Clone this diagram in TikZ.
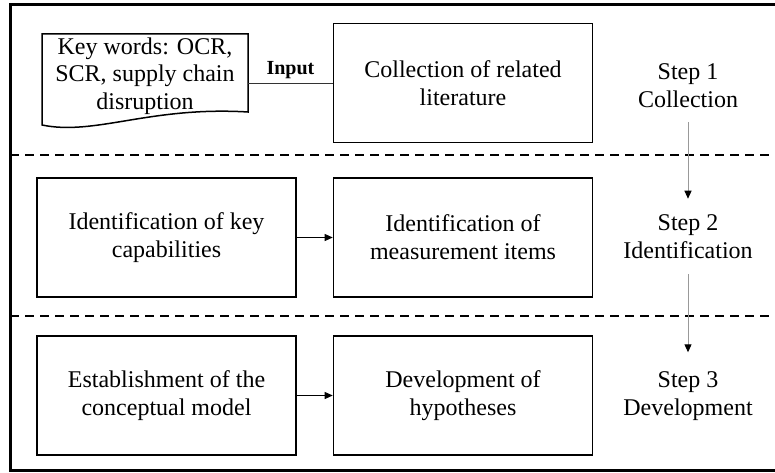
\documentclass[tikz,border=0pt]{standalone}
\usepackage{fontspec}
\setmainfont{Liberation Serif}
\usetikzlibrary{arrows.meta}
\begin{document}
\begin{tikzpicture}[x=1pt,y=-1pt,
  box/.style={draw, line width=1.6pt, minimum width=259pt, minimum height=119pt,
    align=center, font=\fontsize{24}{28}\selectfont, inner sep=0pt},
  steplabel/.style={align=center, font=\fontsize{24}{28}\selectfont, inner sep=0pt},
  phase/.style={line width=2pt, dash pattern=on 9pt off 6pt},
  flow/.style={line width=0.8pt, -{Triangle[length=8pt,width=7pt]}},
  stepflow/.style={draw=gray!80, line width=1pt, -{Triangle[length=8pt,width=7pt,black]}}]
\useasboundingbox (0,0) rectangle (775,473);

% outer frame and phase separators
\draw[line width=3pt] (10,5) rectangle (790,470);
\draw[phase] (10,155) -- (790,155);
\draw[phase] (10,316) -- (790,316);

% keyword document
\draw[line width=1.5pt] (42,125) -- (42,34) -- (248,34) -- (248,112)
  .. controls (150,106) and (95,136) .. cycle;
\node[align=center, font=\fontsize{24}{27.5}\selectfont, inner sep=0pt,
  minimum width=206pt] (doc) at (145,76) {Key words: OCR,\\SCR, supply chain\\disruption};

% step 1
\node[box] (col) at (463,83) {Collection of related\\literature};
\draw[line width=0.8pt, draw=black!80] (col.west -| doc.east) -- (col.west)
  node[midway, above=1pt, font=\fontsize{20}{24}\selectfont\bfseries] {Input};

% step 2
\node[box] (cap) at (166.5,237.5) {Identification of key\\capabilities};
\node[box] (items) at (463,237.5) {Identification of\\measurement items};
\draw[flow] (cap) -- (items);

% step 3
\node[box] (model) at (166.5,395.5) {Establishment of the\\conceptual model};
\node[box] (hyp) at (463,395.5) {Development of\\hypotheses};
\draw[flow] (model) -- (hyp);

% step labels
\node[steplabel] (s1) at (688,86) {Step 1\\Collection};
\node[steplabel] (s2) at (688,237) {Step 2\\Identification};
\node[steplabel] (s3) at (688,396) {Step 3\\Development};
\draw[stepflow, shorten <=14pt, shorten >=16pt] (s1) -- (s2);
\draw[stepflow, shorten <=15pt, shorten >=19pt] (s2) -- (s3);
\end{tikzpicture}
\end{document}
